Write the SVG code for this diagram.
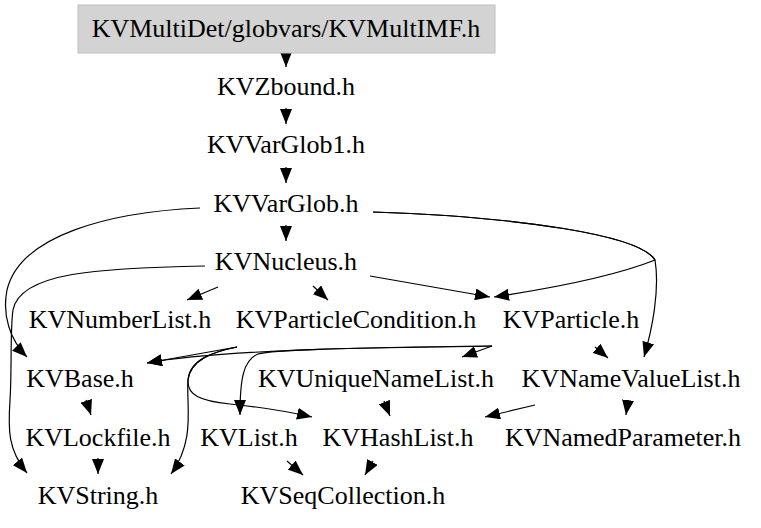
<svg xmlns="http://www.w3.org/2000/svg" width="761" height="528" viewBox="0 0 761 528">
<style>
text{font-family:"Liberation Serif","Times New Roman",serif;font-size:26px;fill:#000;text-anchor:middle}
.e{fill:none;stroke:#000;stroke-width:1.2;marker-end:url(#ah)}
</style>
<defs>
<marker id="ah" markerUnits="userSpaceOnUse" markerWidth="15" markerHeight="12" viewBox="0 0 15 12" refX="15" refY="6" orient="auto">
<path d="M0,0 L15,6 L0,12 z" fill="#000"/>
</marker>
</defs>
<rect width="761" height="528" fill="#fff"/>
<g id="connectors">
<path class="e" d="M286,53 L286,67"/>
<path class="e" d="M286,108 L286,124"/>
<path class="e" d="M286,167 L286,183"/>
<path class="e" d="M286,225 L286,241"/>
<path class="e" d="M200,208 C110,212 20,235 7,290 C2,315 10,340 27,357"/>
<path class="e" d="M373,212 C520,217 640,235 655,260 C620,274 560,287 494,297"/>
<path class="e" d="M373,212 C520,217 640,235 655,260 C660,290 652,330 644,357"/>
<path class="e" d="M218,287 L187,300"/>
<path class="e" d="M313,286 L328,300"/>
<path class="e" d="M370,276 L490,297"/>
<path class="e" d="M205,266 C100,268 20,272 13,310 C10,330 12,370 10,400 C8,430 8,450 27,473"/>
<path class="e" d="M237,347 L147,363"/>
<path class="e" d="M237,347 C212,352 190,360 188,380 C186,405 196,440 171,474"/>
<path class="e" d="M237,347 C212,352 190,360 188,380 C187,395 200,401 230,404 C260,407 290,412 312,417"/>
<path class="e" d="M492,346 C400,347 220,349 147,363"/>
<path class="e" d="M492,346 C400,348 280,348 258,354 C243,360 240,380 240,415"/>
<path class="e" d="M492,346 L462,357"/>
<path class="e" d="M595,347 L608,358"/>
<path class="e" d="M384,401 L390,416"/>
<path class="e" d="M535,405 L485,417"/>
<path class="e" d="M628,400 L626,415"/>
<path class="e" d="M86,400 L91,415"/>
<path class="e" d="M98,458 L98,474"/>
<path class="e" d="M287,461 L303,475"/>
<path class="e" d="M373,461 L365,475"/>
</g>
<g id="n_KVMultIMF"><rect x="78" y="5" width="417" height="48" fill="#d3d3d3" stroke="#c0c0c0"/><text x="286" y="37">KVMultiDet/globvars/KVMultIMF.h</text></g>
<g id="n_KVZbound"><text x="286" y="95">KVZbound.h</text></g>
<g id="n_KVVarGlob1"><text x="286" y="153">KVVarGlob1.h</text></g>
<g id="n_KVVarGlob"><text x="286" y="212">KVVarGlob.h</text></g>
<g id="n_KVNucleus"><text x="286" y="270">KVNucleus.h</text></g>
<g id="n_KVNumberList"><text x="120" y="328">KVNumberList.h</text></g>
<g id="n_KVParticleCondition"><text x="356" y="328">KVParticleCondition.h</text></g>
<g id="n_KVParticle"><text x="571" y="328">KVParticle.h</text></g>
<g id="n_KVBase"><text x="80" y="387">KVBase.h</text></g>
<g id="n_KVUniqueNameList"><text x="376" y="387">KVUniqueNameList.h</text></g>
<g id="n_KVNameValueList"><text x="631" y="387">KVNameValueList.h</text></g>
<g id="n_KVLockfile"><text x="98" y="446">KVLockfile.h</text></g>
<g id="n_KVList"><text x="249" y="446">KVList.h</text></g>
<g id="n_KVHashList"><text x="398" y="446">KVHashList.h</text></g>
<g id="n_KVNamedParameter"><text x="623" y="446">KVNamedParameter.h</text></g>
<g id="n_KVString"><text x="98" y="504">KVString.h</text></g>
<g id="n_KVSeqCollection"><text x="343" y="504">KVSeqCollection.h</text></g>
</svg>
